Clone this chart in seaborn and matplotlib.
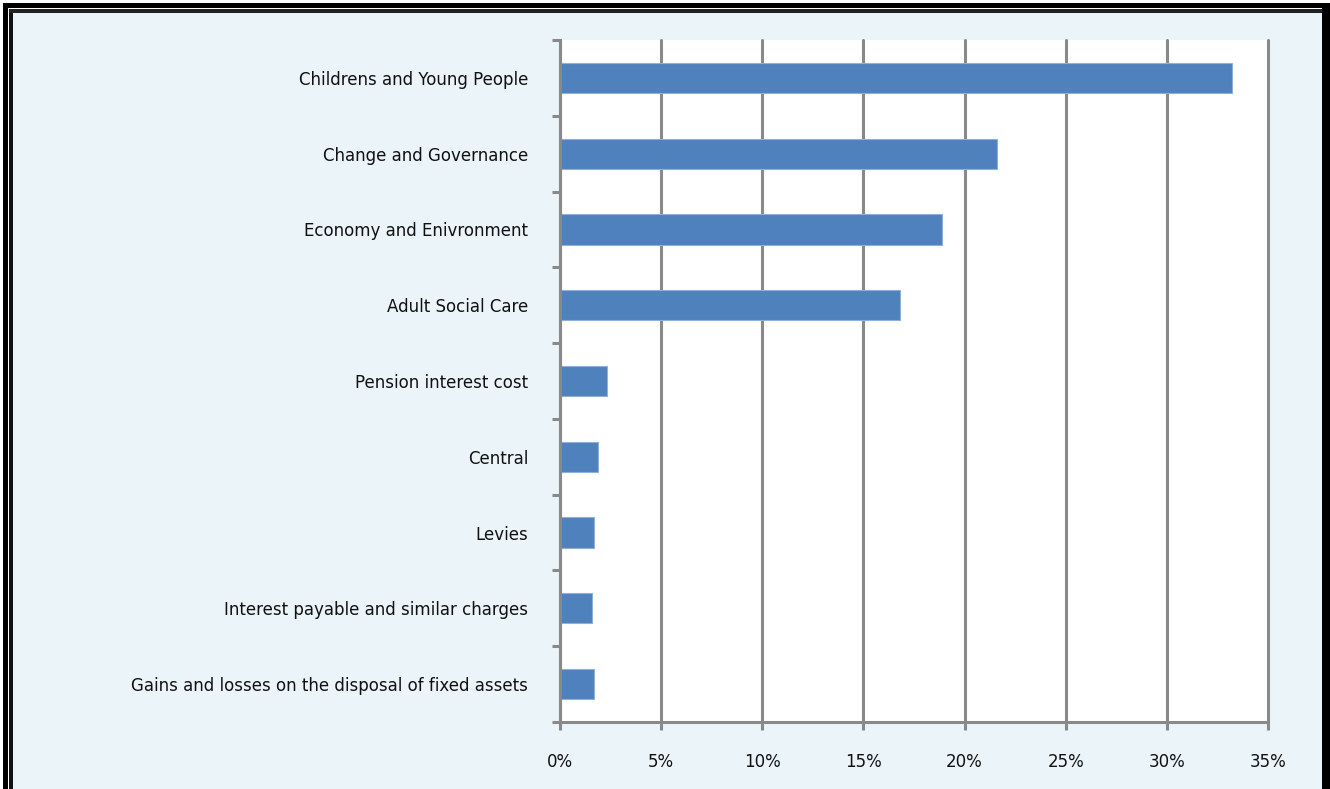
import matplotlib
matplotlib.use("Agg")
import matplotlib.pyplot as plt
import seaborn as sns
import pandas as pd
from matplotlib.patches import Rectangle
from matplotlib.ticker import FixedLocator, PercentFormatter

categories = [
    "Childrens and Young People",
    "Change and Governance",
    "Economy and Enivronment",
    "Adult Social Care",
    "Pension interest cost",
    "Central",
    "Levies",
    "Interest payable and similar charges",
    "Gains and losses on the disposal of fixed assets",
]
values = [33.2, 21.6, 18.9, 16.8, 2.3, 1.9, 1.7, 1.6, 1.7]
x_ticks = [0, 5, 10, 15, 20, 25, 30, 35]

df = pd.DataFrame({"category": categories, "value": values})

W, H = 1330, 789
sns.set_theme(style="white")
plt.rcParams["font.family"] = ["DejaVu Sans"]

fig = plt.figure(figsize=(W / 100, H / 100), dpi=100, facecolor="#EBF4F8")
ax = fig.add_axes([560 / W, 1 - 722 / H, (1268 - 560) / W, (722 - 40) / H])
ax.set_facecolor("white")

sns.barplot(data=df, x="value", y="category", orient="h", color="#4F81BD",
            width=0.4, edgecolor="#8EB0DA", linewidth=0.8, saturation=1, ax=ax)

ax.set_xlim(0, 35)
ax.set_ylim(len(categories) - 0.5, -0.5)
ax.set_xticks(x_ticks)
ax.xaxis.set_major_formatter(PercentFormatter(decimals=0))
ax.set_xlabel("")
ax.set_ylabel("")

grid_c = "#898989"
ax.grid(axis="x", color=grid_c, linewidth=2.2)
ax.grid(axis="y", visible=False)
ax.set_axisbelow(True)
for gl in ax.get_xgridlines():
    gl.set_clip_on(False)
for s in ["top", "right"]:
    ax.spines[s].set_visible(False)
for s in ["left", "bottom"]:
    ax.spines[s].set_color(grid_c)
    ax.spines[s].set_linewidth(2.2)

ax.yaxis.set_minor_locator(FixedLocator([i - 0.5 for i in range(len(categories) + 1)]))
ax.tick_params(axis="y", which="major", length=0, pad=23, labelsize=12, labelcolor="#111111")
ax.tick_params(axis="y", which="minor", left=True, length=6, width=2.2, color=grid_c)
ax.tick_params(axis="x", which="major", bottom=True, length=6, width=2.2, color=grid_c,
               pad=16, labelsize=12, labelcolor="#111111")

def px_rect(x0, y0, x1, y1, color):
    fig.add_artist(Rectangle((x0 / W, 1 - y1 / H), (x1 - x0) / W, (y1 - y0) / H,
                             transform=fig.transFigure, facecolor=color,
                             edgecolor="none", zorder=10))

# white outer margin strips
px_rect(0, 0, 3, H, "white")
px_rect(0, 0, W, 3, "white")
# outer black frame
px_rect(3, 3, 8, H, "black")
px_rect(3, 3, W, 8, "black")
px_rect(1322, 3, W, H, "black")
# white gap
px_rect(8, 8, 9, H, "white")
px_rect(8, 8, 1322, 9, "white")
# inner frame
px_rect(9, 9, 13, H, "#111111")
px_rect(9, 9, 1322, 13, "#222222")

fig.savefig("out.png", dpi=100, facecolor=fig.get_facecolor())
